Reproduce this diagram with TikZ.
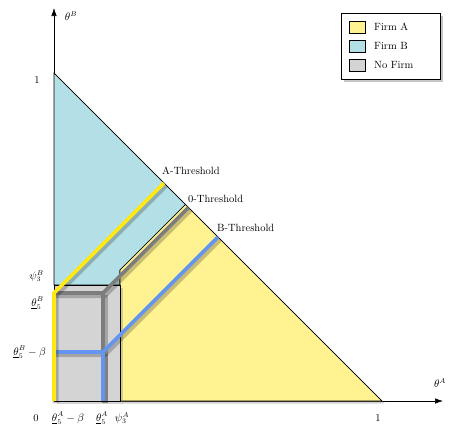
\documentclass[tikz,border=0pt]{standalone}
\usetikzlibrary{shadows,arrows.meta}
\definecolor{fa}{RGB}{255,242,145}
\definecolor{fb}{RGB}{178,224,230}
\definecolor{nf}{RGB}{212,212,212}
\definecolor{ly}{RGB}{255,232,20}
\definecolor{lb}{RGB}{100,150,240}
\definecolor{lg}{RGB}{125,125,125}
\begin{document}
\begin{tikzpicture}[x=1pt,y=-1pt,font=\fontsize{10.5}{12}\selectfont,
  region/.style={draw=black,line width=0.6pt,line join=miter,
    drop shadow={shadow xshift=2.5pt,shadow yshift=-2.5pt,opacity=0.35}},
  thr/.style={line width=3.6pt,line join=miter,
    preaction={draw=black,opacity=0.22,line width=6pt,
      transform canvas={shift={(1.5pt,-2pt)}}}},
  axisline/.style={line width=0.6pt,-{Latex[length=8pt,width=5.5pt]}},
  lab/.style={inner sep=0pt},
  swatch/.style={draw=black,line width=0.6pt,minimum width=16pt,minimum height=12pt,inner sep=0pt}]
\useasboundingbox (0,0) rectangle (449,429);
% key points
\coordinate (O) at (54,401);
\coordinate (X1) at (382,401);
\coordinate (Y1) at (54,73);
\coordinate (P) at (185.5,204.5);
\coordinate (Q) at (120,270);
\coordinate (R) at (120,285);
\coordinate (S) at (54,285);
\coordinate (T) at (120,401);
\coordinate (XE) at (443,401);
\coordinate (YE) at (54,8);
% axes
\draw[axisline] (O) -- (XE);
\draw[axisline] (O) -- (YE);
% regions
\fill[fb,region] (Y1) -- (P) -- (Q) -- (R) -- (S) -- cycle;
\fill[fa,region] (T) -- (X1) -- (P) -- (Q) -- cycle;
\fill[nf,region] (S) -- (R) -- (T) -- (O) -- cycle;
\draw[line width=0.6pt] (Y1) -- (X1);
% threshold lines
\coordinate (g1) at (54,293);
\coordinate (g2) at (103,293);
\coordinate (g3) at (188.5,207.5);
\coordinate (g4) at (103,401);
\coordinate (b1) at (54,352);
\coordinate (b2) at (103,352);
\coordinate (b3) at (218,237);
\coordinate (y3) at (164,183);
\draw[lg,thr] (g1) -- (g2) -- (g3);
\draw[lg,thr] (g2) -- (g4);
\draw[lb,thr] (b1) -- (b2) -- (b3);
\draw[lb,thr] (b2) -- (g4);
\draw[ly,thr] (O) -- (g1) -- (y3);
% labels
\node[lab,anchor=west] (la) at (162,171) {A-Threshold};
\node[lab,anchor=west] (l0) at (188,199) {0-Threshold};
\node[lab,anchor=west] (lbt) at (217,228) {B-Threshold};
\node[lab] (tb) at (71,16) {$\theta^B$};
\node[lab] (ta) at (440,383) {$\theta^A$};
\node[lab] (y1l) at (37,80) {1};
\node[lab] (x1l) at (378,418) {1};
\node[lab] (zero) at (36,418) {0};
\node[lab] (xa) at (68,418) {$\underline{\theta}_5^A-\beta$};
\node[lab] (xb) at (102,418) {$\underline{\theta}_5^A$};
\node[lab] (xc) at (122,418) {$\psi_3^A$};
\node[lab,anchor=east] (ya) at (44,276) {$\psi_3^B$};
\node[lab,anchor=east] (yb) at (44,303) {$\underline{\theta}_5^B$};
\node[lab,anchor=east] (yc) at (46,352) {$\underline{\theta}_5^B-\beta$};
% legend
\node[draw=black,line width=0.6pt,fill=white,minimum width=99pt,minimum height=66pt,
  drop shadow={shadow xshift=2.5pt,shadow yshift=-3pt,opacity=0.45}] (leg) at (391,46) {};
\node[swatch,fill=fa] (s1) at (357,27) {};
\node[swatch,fill=fb] (s2) at (357,46) {};
\node[swatch,fill=nf] (s3) at (357,65) {};
\node[lab,anchor=west] (t1) at (374,27) {Firm A};
\node[lab,anchor=west] (t2) at (374,46) {Firm B};
\node[lab,anchor=west] (t3) at (374,65) {No Firm};
\end{tikzpicture}
\end{document}
